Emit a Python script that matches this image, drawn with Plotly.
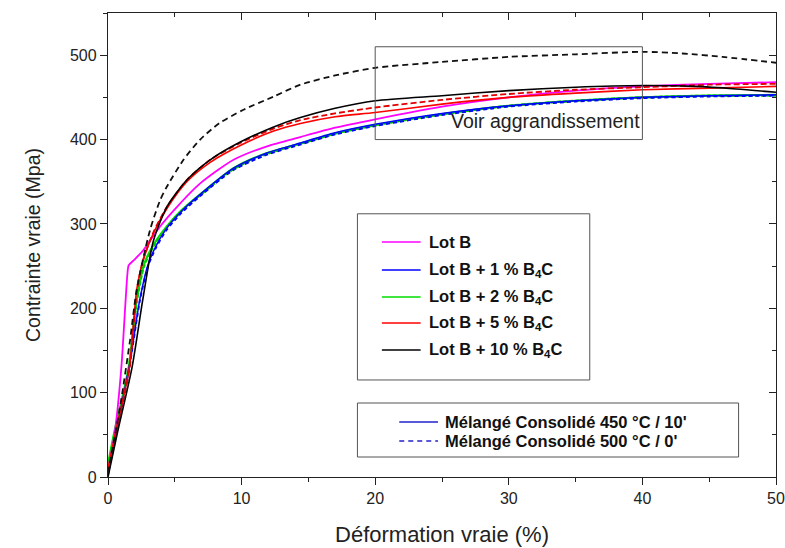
import plotly.graph_objects as go

# ---------------- data (strain %, true stress MPa) ----------------
lotB_x = [0, 0.5, 1.0, 1.3, 1.45, 1.55, 2.0, 2.65, 3.9, 5.15, 6.9, 9.4, 11.9, 14.4, 17, 20, 25, 30, 35, 40, 45, 50]
lotB_y = [8, 52, 130, 205, 240, 251, 258, 269, 297, 320, 348, 376, 392, 403, 414, 424, 439, 450, 458, 463, 466, 468]

b1_x = [0, 0.6, 1.6, 2.4, 3.0, 3.6, 4.4, 5.5, 6.9, 9.4, 11.9, 14.4, 17, 20, 25, 30, 35, 40, 45, 50]
b1_sol_y = [4, 52, 132, 212, 252, 274, 295, 315, 335, 366, 384, 396, 408, 418, 431, 440, 446, 450, 452, 453]
b1_dash_y = [2, 50, 130, 210, 250, 272, 293, 313, 333, 364, 382, 394, 406, 416, 429, 439, 445, 449, 451, 452]

b2_x = [0, 0.5, 1.55, 2.15, 2.7, 3.4, 4.4, 5.5, 6.9, 9.4, 11.9, 14.4, 17, 20, 25, 30, 35, 40, 45, 50]
b2_sol_y = [15, 55, 130, 210, 252, 275, 297, 316, 335, 366, 384, 395, 407, 417, 430, 440, 446, 450, 452, 453]
b2_dash_y = [10, 52, 128, 207, 250, 273, 296, 315, 334, 365, 383, 395, 407, 417, 430, 440, 446, 450, 452, 452]

b5_x = [0, 0.6, 1.6, 2.15, 2.6, 3.4, 4.4, 5.9, 7.65, 9.9, 12.4, 14.4, 17, 20, 25, 30, 35, 40, 45, 50]
b5_sol_y = [10, 55, 130, 222, 255, 289, 318, 350, 373, 393, 410, 419, 427, 432, 442, 450, 455, 459, 461, 463]
b5_dash_y = [5, 52, 127, 218, 256, 290, 320, 352, 376, 396, 413, 423, 431, 438, 447, 454, 459, 462, 465, 466]

b10_sol_x = [0, 0.7, 1.8, 2.6, 3.4, 4.4, 5.9, 7.65, 9.9, 12.4, 14.4, 17, 20, 25, 30, 35, 40, 44, 47, 50]
b10_sol_y = [0, 52, 130, 210, 280, 320, 352, 376, 397, 415, 426, 437, 446, 452, 458, 462, 464, 463, 460, 456]
b10_dash_x = [0, 0.9, 1.65, 2.15, 3.15, 3.9, 4.4, 5.65, 6.9, 8.3, 10.1, 12.4, 14.4, 17, 20, 25, 30, 35, 40, 43, 46, 50]
b10_dash_y = [5, 83, 162, 222, 293, 328, 344, 376, 400, 419, 435, 451, 465, 476, 485, 492, 498, 501, 504, 502, 498, 491]

legend1_labels = ["Lot B", "Lot B + 1 % B<sub>4</sub>C", "Lot B + 2 % B<sub>4</sub>C",
                  "Lot B + 5 % B<sub>4</sub>C", "Lot B + 10 % B<sub>4</sub>C"]
legend1_colors = ["#ff00ff", "#0000ff", "#00dd00", "#ff0000", "#000000"]
legend2_labels = ["Mélangé Consolidé 450 °C / 10'", "Mélangé Consolidé 500 °C / 0'"]

x_ticks = [0, 10, 20, 30, 40, 50]
y_ticks = [0, 100, 200, 300, 400, 500]

FONT = "Liberation Sans, Arial, sans-serif"

fig = go.Figure()

def add(x, y, color, dash="solid", width=1.5):
    fig.add_trace(go.Scatter(x=x, y=y, mode="lines",
                             line=dict(color=color, width=width, dash=dash, shape="spline", smoothing=0.7),
                             showlegend=False, hoverinfo="skip", cliponaxis=False))

add(b2_x, b2_sol_y, "#00dd00", width=2.2)
add(b2_x, b2_dash_y, "#00cc00", dash="4px,2px", width=2.2)
add(b1_x, b1_sol_y, "#0000ff")
add(b1_x, b1_dash_y, "#0000ff", dash="4px,3px", width=1.8)
add(lotB_x, lotB_y, "#ff00ff", width=1.8)
add(b5_x, b5_sol_y, "#ff0000", width=1.6)
add(b5_x, b5_dash_y, "#e00000", dash="6px,3px", width=1.8)
add(b10_sol_x, b10_sol_y, "#000000", width=1.6)
add(b10_dash_x, b10_dash_y, "#111111", dash="6px,4px", width=1.8)

# invisible trace for mirrored (top/right) axes
fig.add_trace(go.Scatter(x=[0], y=[0], xaxis="x2", yaxis="y2", mode="markers",
                         marker=dict(opacity=0), showlegend=False, hoverinfo="skip"))

shapes = []
annotations = []

# "Voir aggrandissement" box
shapes.append(dict(type="rect", xref="x", yref="y", x0=20, x1=40, y0=400, y1=510,
                   line=dict(color="#555555", width=1)))
annotations.append(dict(x=39.95, y=406, xref="x", yref="y", text="Voir aggrandissement",
                        showarrow=False, xanchor="right", yanchor="bottom",
                        font=dict(family=FONT, size=19.5, color="#222222")))

LEG_SIZE = 16.5

# Legend box 1
shapes.append(dict(type="rect", xref="x", yref="y", x0=18.67, x1=36.06, y0=115, y1=312,
                   line=dict(color="#555555", width=1), fillcolor="white", layer="above"))
rows1 = [278.6, 245.4, 213.4, 182.5, 150.5]
for lab, col, yy in zip(legend1_labels, legend1_colors, rows1):
    shapes.append(dict(type="line", xref="x", yref="y", x0=20.5, x1=23.4, y0=yy, y1=yy,
                       line=dict(color=col, width=1.5), layer="above"))
    annotations.append(dict(x=23.85, y=yy, xref="x", yref="y", text="<b>" + lab + "</b>",
                            showarrow=False, xanchor="left", yanchor="middle",
                            font=dict(family=FONT, size=LEG_SIZE, color="#111111")))

# Legend box 2
shapes.append(dict(type="rect", xref="x", yref="y", x0=18.67, x1=47.2, y0=23.7, y1=87.7,
                   line=dict(color="#555555", width=1), fillcolor="white", layer="above"))
rows2 = [65.2, 42.7]
for lab, yy, dsh in zip(legend2_labels, rows2, ["solid", "5px,4px"]):
    shapes.append(dict(type="line", xref="x", yref="y", x0=21.8, x1=24.7, y0=yy, y1=yy,
                       line=dict(color="#2222cc", width=1.5, dash=dsh), layer="above"))
    annotations.append(dict(x=25.1, y=yy, xref="x", yref="y", text="<b>" + lab + "</b>",
                            showarrow=False, xanchor="left", yanchor="middle",
                            font=dict(family=FONT, size=LEG_SIZE, color="#111111")))

axis_common = dict(showgrid=False, zeroline=False, showline=True, linecolor="#222222", linewidth=1.3,
                   tickcolor="#222222", tickwidth=1.2, automargin=False)

fig.update_layout(
    width=785, height=548,
    margin=dict(l=108, r=9, t=13, b=71),
    paper_bgcolor="white", plot_bgcolor="white",
    font=dict(family=FONT, color="#222222"),
    shapes=shapes, annotations=annotations,
    xaxis=dict(range=[0, 50], tickvals=x_ticks, ticks="outside", ticklen=7,
               tickfont=dict(size=16, family=FONT, color="#222222"), ticklabeloverflow="allow",
               minor=dict(dtick=5, ticks="outside", ticklen=4, tickcolor="#222222"),
               title=dict(text="Déformation vraie (%)", font=dict(size=22, family=FONT, color="#222222"), standoff=20),
               **axis_common),
    yaxis=dict(range=[0, 550], tickvals=y_ticks, ticks="outside", ticklen=7,
               tickfont=dict(size=16, family=FONT, color="#222222"),
               minor=dict(dtick=50, ticks="outside", ticklen=4, tickcolor="#222222"),
               title=dict(text="Contrainte vraie (Mpa)", font=dict(size=19.5, family=FONT, color="#222222"), standoff=24),
               **axis_common),
    xaxis2=dict(range=[0, 50], overlaying="x", side="top", tickvals=x_ticks, ticks="inside", ticklen=7,
                showticklabels=False, minor=dict(dtick=5, ticks="inside", ticklen=4, tickcolor="#222222"),
                **axis_common),
    yaxis2=dict(range=[0, 550], overlaying="y", side="right", tickvals=y_ticks, ticks="inside", ticklen=7,
                showticklabels=False, minor=dict(dtick=50, ticks="inside", ticklen=4, tickcolor="#222222"),
                **axis_common),
)

# remove the page's default 8px body margin so the 785x548 figure fills the window exactly
fig.write_html("out.html", config={"displayModeBar": False},
               post_script="document.body.style.margin='0';document.body.style.overflow='hidden';")
